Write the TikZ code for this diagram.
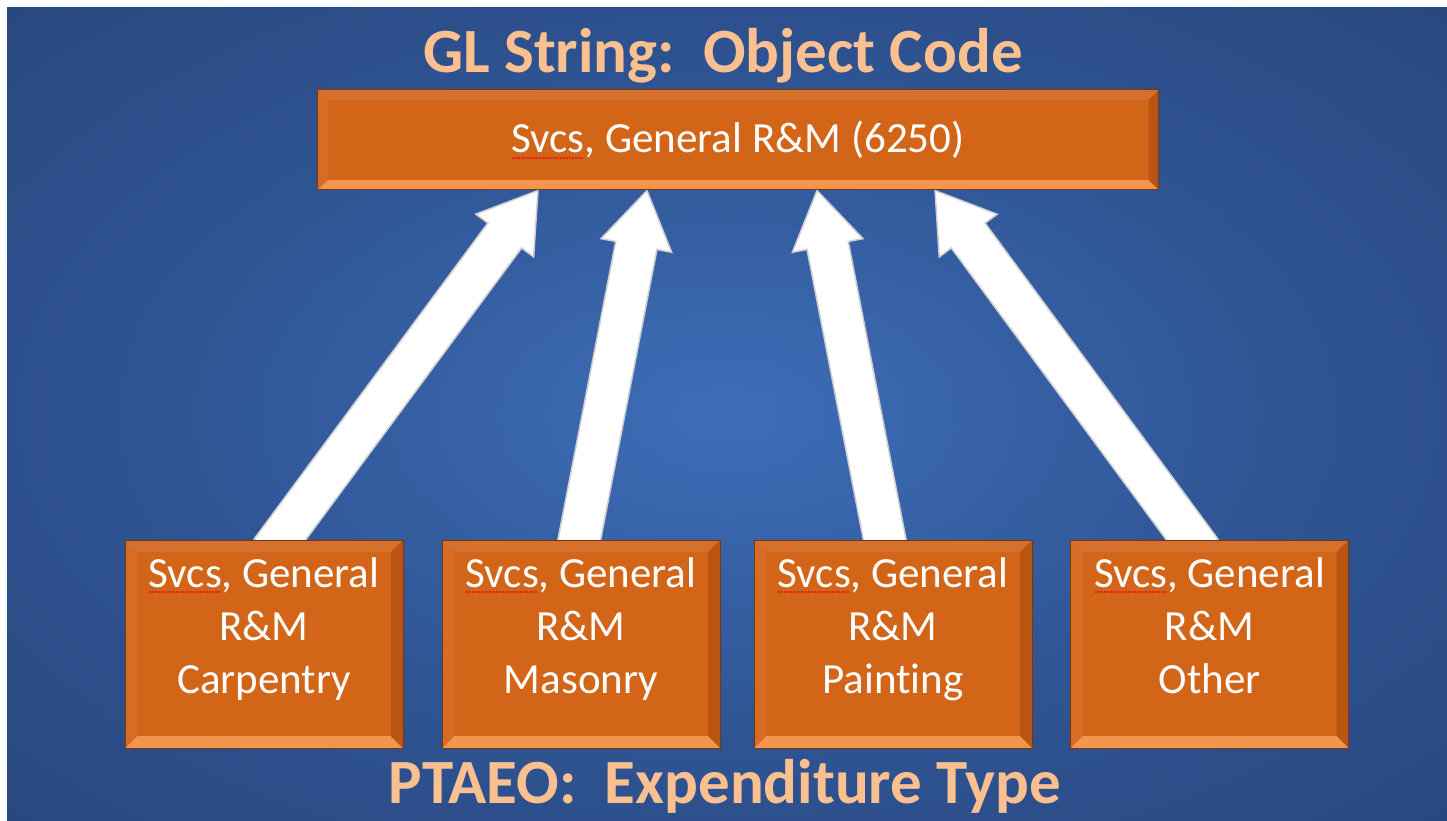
\documentclass[tikz,border=0pt]{standalone}
\usepackage{fontspec}
\setmainfont{Carlito}[Ligatures=NoCommon]
\usetikzlibrary{calc}
\definecolor{bglight}{RGB}{62,110,184}
\definecolor{bgmid}{RGB}{48,86,150}
\definecolor{bgdark}{RGB}{35,60,108}
\definecolor{boxfill}{RGB}{211,101,25}
\definecolor{bevtop}{RGB}{214,112,45}
\definecolor{bevbot}{RGB}{242,150,78}
\definecolor{bevleft}{RGB}{216,108,36}
\definecolor{bevright}{RGB}{186,84,18}
\definecolor{boxline}{RGB}{120,55,15}
\definecolor{peach}{RGB}{251,192,143}
\definecolor{squig}{RGB}{230,30,30}
\definecolor{arrowedge}{RGB}{205,205,210}
\pgfdeclareradialshading{slidebg}{\pgfpoint{0bp}{0bp}}{color(0bp)=(bglight); color(18bp)=(bgmid); color(50bp)=(bgdark); color(100bp)=(bgdark)}
\pgfdeclarelayer{back}
\pgfsetlayers{back,main}
\newcommand\spell[1]{\setbox0\hbox{#1}\rlap{\copy0}\raisebox{-6pt}{\textcolor{squig}{\leaders\hbox to 3pt{\hss\rule{1.8pt}{1.8pt}\hss}\hskip\wd0}}}
\newcommand\blockarrow[2]{%
  \filldraw[arrowstyle] let \p1=(#1), \p2=(#2),
    \n1={veclen(\x2-\x1,\y2-\y1)}, \n2={atan2(\y2-\y1,\x2-\x1)} in
    ([shift={(\p1)},rotate=\n2]0pt,-21pt)
    -- ([shift={(\p1)},rotate=\n2]{\n1*1pt-56pt},-21pt)
    -- ([shift={(\p1)},rotate=\n2]{\n1*1pt-56pt},-36pt)
    -- ([shift={(\p1)},rotate=\n2]{\n1*1pt},0pt)
    -- ([shift={(\p1)},rotate=\n2]{\n1*1pt-56pt},36pt)
    -- ([shift={(\p1)},rotate=\n2]{\n1*1pt-56pt},21pt)
    -- ([shift={(\p1)},rotate=\n2]0pt,21pt) -- cycle;}
\tikzset{
  arrowstyle/.style={fill=white, draw=arrowedge, line width=1.5pt, line join=miter},
  bevel/.style={path picture={
    \fill[bevtop] (path picture bounding box.north west) -- (path picture bounding box.north east)
      -- ([xshift=-#1,yshift=-#1]path picture bounding box.north east) -- ([xshift=#1,yshift=-#1]path picture bounding box.north west) -- cycle;
    \fill[bevbot] (path picture bounding box.south west) -- (path picture bounding box.south east)
      -- ([xshift=-#1,yshift=#1]path picture bounding box.south east) -- ([xshift=#1,yshift=#1]path picture bounding box.south west) -- cycle;
    \fill[bevleft] (path picture bounding box.north west) -- (path picture bounding box.south west)
      -- ([xshift=#1,yshift=#1]path picture bounding box.south west) -- ([xshift=#1,yshift=-#1]path picture bounding box.north west) -- cycle;
    \fill[bevright] (path picture bounding box.north east) -- (path picture bounding box.south east)
      -- ([xshift=-#1,yshift=#1]path picture bounding box.south east) -- ([xshift=-#1,yshift=-#1]path picture bounding box.north east) -- cycle;
  }},
  boxbase/.style={rectangle, fill=boxfill, draw=boxline, line width=1pt, text=white, inner sep=0pt,
    font=\fontsize{43}{53}\selectfont},
  topbox/.style={boxbase, bevel=10pt, minimum width=841pt, minimum height=100pt},
  subbox/.style={boxbase, bevel=12pt, minimum width=278pt, minimum height=208pt, align=center},
  titletext/.style={text=peach, font=\fontsize{63}{70}\selectfont\bfseries, inner sep=0pt, anchor=base},
}
\newcommand\topstrut{\rule{0pt}{32pt}}
\newcommand\botstrut{\rule[-40pt]{0pt}{40pt}}
\begin{document}
\begin{tikzpicture}[x=1pt,y=-1pt]
\useasboundingbox (0,0) rectangle (1447,821);
\begin{pgfonlayer}{back}
  \fill[white] (0,0) rectangle (1447,821);
  \shade[shading=slidebg] (7,8) rectangle (1447,821);
\end{pgfonlayer}

\node[titletext] (title) at (723,73) {GL String:\ \ Object Code};
\node[titletext] (foot) at (725,803) {PTAEO:\ \ Expenditure Type};

\node[topbox] (top) at (738,140) {\spell{Svcs}, General R\&M (6250)};

\node[subbox] (b1) at (264,644) {\topstrut\spell{Svcs}, General\\R\&M\\Carpentry\botstrut};
\node[subbox] (b2) at (581,644) {\topstrut\spell{Svcs}, General\\R\&M\\Masonry\botstrut};
\node[subbox] (b3) at (893,644) {\topstrut\spell{Svcs}, General\\R\&M\\Painting\botstrut};
\node[subbox] (b4) at (1209.5,644) {\topstrut\spell{Svcs}, General\\R\&M\\Other\botstrut};

\coordinate (t1) at ([xshift=7pt,yshift=-12pt]b1.north);
\coordinate (t2) at ([xshift=-4pt,yshift=-12pt]b2.north);
\coordinate (t3) at ([xshift=-6pt,yshift=-12pt]b3.north);
\coordinate (t4) at ([xshift=-8.5pt,yshift=-12pt]b4.north);
\coordinate (h1) at ([xshift=-200pt]top.south);
\coordinate (h2) at ([xshift=-91pt]top.south);
\coordinate (h3) at ([xshift=79pt]top.south);
\coordinate (h4) at ([xshift=197pt]top.south);

\begin{pgfonlayer}{back}
  \blockarrow{t1}{h1}
  \blockarrow{t2}{h2}
  \blockarrow{t3}{h3}
  \blockarrow{t4}{h4}
\end{pgfonlayer}
\end{tikzpicture}
\end{document}
